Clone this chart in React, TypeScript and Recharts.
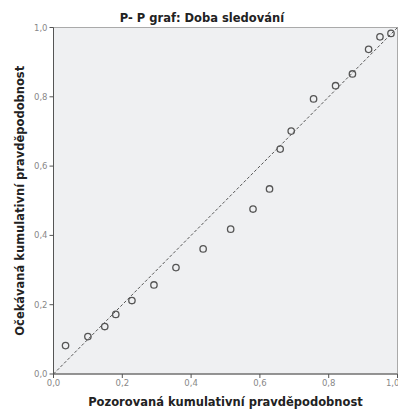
import React from "react";
import {
  ScatterChart,
  Scatter,
  XAxis,
  YAxis,
  ReferenceLine,
  ReferenceArea,
  Label,
} from "recharts";

const observed = [
  0.035, 0.1, 0.149, 0.181, 0.228, 0.292, 0.356, 0.435, 0.515, 0.58, 0.628,
  0.659, 0.691, 0.756, 0.82, 0.869, 0.916, 0.949, 0.981,
];
const expected = [
  0.082, 0.108, 0.137, 0.172, 0.212, 0.257, 0.307, 0.361, 0.418, 0.476, 0.534,
  0.649, 0.701, 0.794, 0.832, 0.866, 0.937, 0.973, 0.983,
];
const ticks = [0, 0.2, 0.4, 0.6, 0.8, 1];

const points = observed.map((x, i) => ({ x, y: expected[i] }));
const fmt = (v: number) => v.toFixed(1).replace(".", ",");

const labelFont = "'DejaVu Sans', sans-serif";

export default function App() {
  return (
    <div style={{ position: "absolute", left: 0, top: 0, width: 398, height: 410, background: "#fff" }}>
      <div
        style={{
          position: "absolute",
          left: 0,
          width: 404,
          top: 11,
          textAlign: "center",
          fontFamily: labelFont,
          fontWeight: "bold",
          fontSize: 11.5,
          color: "#222",
        }}
      >
        P- P graf: Doba sledování
      </div>
      <ScatterChart
        width={398}
        height={410}
        margin={{ top: 27.5, right: 0.5, bottom: 16, left: 23.5 }}
      >
        <ReferenceArea x1={0} x2={1} y1={0} y2={1} fill="#EFF0F2" fillOpacity={1} stroke="#aaa" strokeWidth={1} />
        <XAxis
          type="number"
          dataKey="x"
          domain={[0, 1]}
          ticks={ticks}
          tickFormatter={fmt}
          height={20}
          stroke="#555"
          tickSize={4}
          tick={{ fontSize: 8.5, fill: "#888", fontFamily: labelFont }}
        >
          <Label
            value="Pozorovaná kumulativní pravděpodobnost"
            position="bottom"
            offset={4}
            style={{ fontFamily: labelFont, fontWeight: "bold", fontSize: 11.5, fill: "#222" }}
          />
        </XAxis>
        <YAxis
          type="number"
          dataKey="y"
          domain={[0, 1]}
          ticks={ticks}
          tickFormatter={fmt}
          width={30}
          stroke="#555"
          tickSize={4}
          tick={{ fontSize: 8.5, fill: "#888", fontFamily: labelFont }}
        >
          <Label
            value="Očekávaná kumulativní pravděpodobnost"
            angle={-90}
            position="left"
            offset={4}
            style={{ fontFamily: labelFont, fontWeight: "bold", fontSize: 11.5, fill: "#222", textAnchor: "middle" }}
          />
        </YAxis>
        <ReferenceLine
          segment={[
            { x: 0, y: 0 },
            { x: 1, y: 1 },
          ]}
          stroke="#555"
          strokeDasharray="3 2"
          strokeWidth={1}
        />
        <Scatter
          data={points}
          isAnimationActive={false}
          shape={(p: any) => (
            <circle cx={p.cx} cy={p.cy} r={3.2} fill="none" stroke="#555" strokeWidth={1.3} />
          )}
        />
      </ScatterChart>
    </div>
  );
}
